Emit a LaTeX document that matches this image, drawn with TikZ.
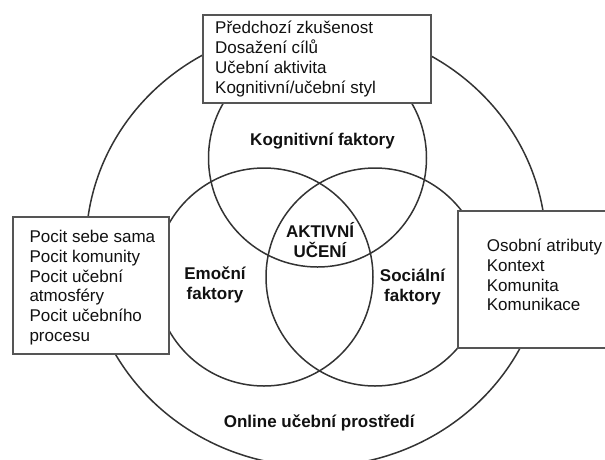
\documentclass[tikz,border=0pt]{standalone}
\usepackage{fontspec}
\setmainfont{Liberation Sans}
\usetikzlibrary{shapes.geometric}
\definecolor{circ}{HTML}{333333}
\definecolor{boxc}{HTML}{555555}
\definecolor{txt}{HTML}{111111}
\tikzset{
  ring/.style={draw=circ, line width=1.5pt, inner sep=0pt, outer sep=0pt},
  infobox/.style={draw=boxc, line width=2pt, fill=white, inner sep=0pt, outer sep=0pt, anchor=north west},
  itemtext/.style={font=\fontsize{17}{19.8}\selectfont, align=left, inner sep=0pt, anchor=west, text=txt},
  factor/.style={font=\fontsize{17}{19.8}\selectfont\bfseries, align=center, inner sep=0pt, text=txt}
}
\begin{document}
\begin{tikzpicture}[x=1pt,y=-1pt]
\useasboundingbox (0,0) rectangle (605,459);
\clip (0,0) rectangle (605,459);
% outer environment
\node[ring, ellipse, minimum width=460pt, minimum height=440pt] (env) at (316,246.5) {};
% three factor circles
\node[ring, circle, minimum size=218pt] (cog) at (317.5,158) {};
\node[ring, circle, minimum size=218pt] (emo) at (264,277) {};
\node[ring, circle, minimum size=218pt] (soc) at (375,277) {};
% boxes
\node[infobox, minimum width=228.5pt, minimum height=88.3pt] (boxcog) at (202.5,14.7) {};
\node[infobox, minimum width=156.6pt, minimum height=137.3pt] (boxemo) at (12.7,216.7) {};
\node[infobox, minimum width=180pt, minimum height=137.3pt] (boxsoc) at (458.3,211) {};
% box texts
\node[itemtext] (tcog) at (215,59) {Předchozí zkušenost\\Dosažení cílů\\Učební aktivita\\Kognitivní/učební styl};
\node[itemtext] (temo) at (29.3,287.5) {Pocit sebe sama\\Pocit komunity\\Pocit učební\\atmosféry\\Pocit učebního\\procesu};
\node[itemtext] (tsoc) at (486.7,275) {Osobní atributy\\Kontext\\Komunita\\Komunikace};
% labels
\node[factor] (lcog) at (322.5,141) {Kognitivní faktory};
\node[factor] (lact) at (320,240) {AKTIVNÍ\\UČENÍ};
\node[factor] (lemo) at (215,285.3) {Emoční\\faktory};
\node[factor] (lsoc) at (412.5,287) {Sociální\\faktory};
\node[factor] (lenv) at (319.2,422.8) {Online učební prostředí};
\end{tikzpicture}
\end{document}
